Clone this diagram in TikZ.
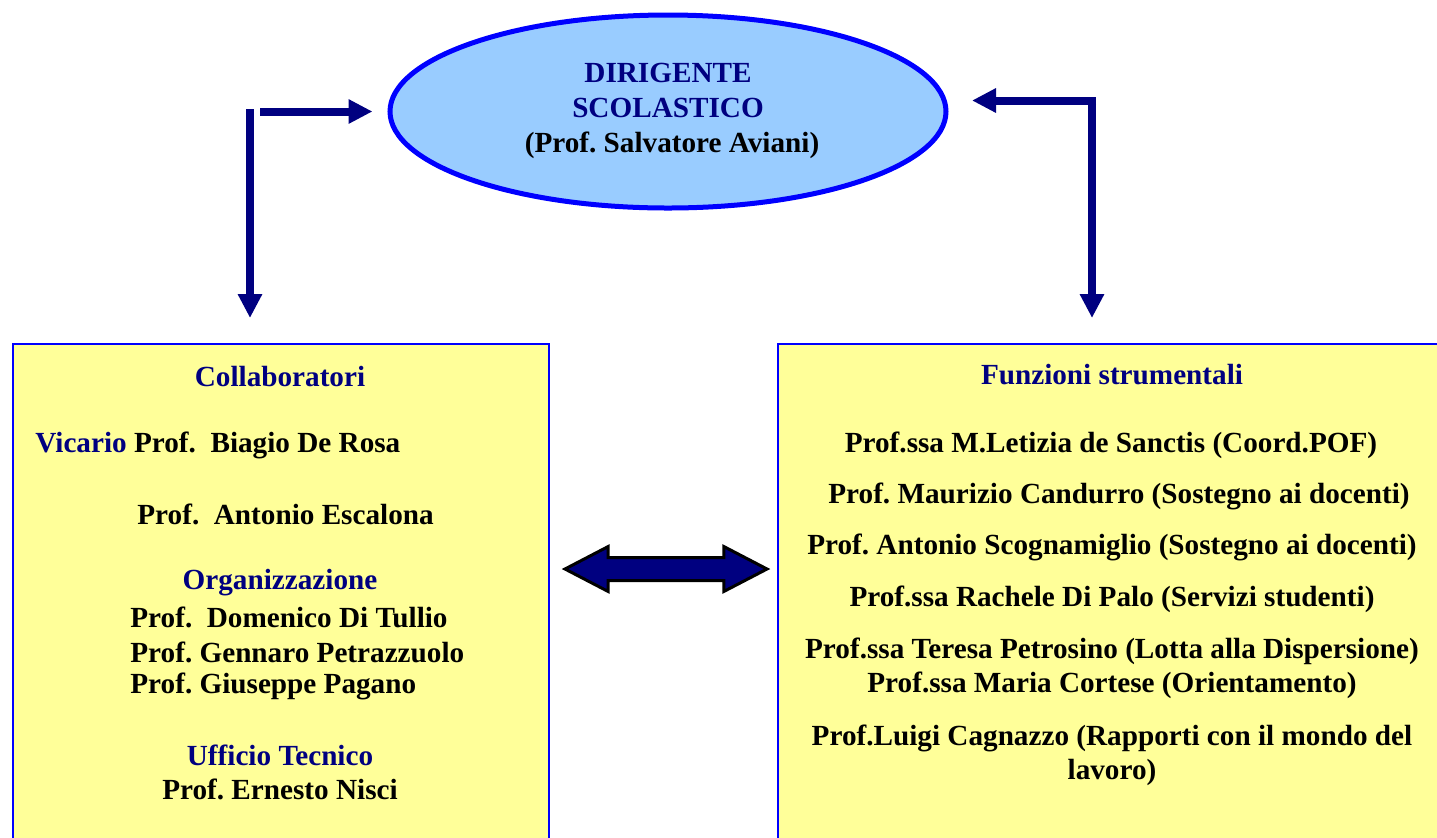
\documentclass[tikz,border=0pt]{standalone}
\usepackage{fontspec}
\setmainfont{Liberation Serif}
\usetikzlibrary{arrows.meta,shapes.geometric,shapes.arrows}
\definecolor{navy}{HTML}{000080}
\definecolor{skyfill}{HTML}{99CCFF}
\definecolor{boxfill}{HTML}{FFFF99}
\definecolor{rim}{HTML}{0000FF}
\frenchspacing

\begin{document}
\begin{tikzpicture}[x=0.5pt,y=-0.5pt]
 \tikzstyle{txt} = [inner sep=0pt, font=\fontsize{14.6}{17.3}\selectfont\bfseries];
 \tikzstyle{head} = [txt, text=navy];
 \tikzstyle{panel} = [draw=rim, fill=boxfill, line width=1pt, anchor=north west, inner sep=0pt];
 \useasboundingbox (0,0) rectangle (1437,837);

 \node (dirigente) [ellipse, draw=rim, fill=skyfill, line width=2.5pt, minimum width=278pt, minimum height=96.5pt] at (668,111.5) {};
 \node (collab) [panel, minimum width=268pt, minimum height=260pt] at (12,343) {};
 \node (funz) [panel, minimum width=334pt, minimum height=260pt] at (777,343) {};

 \node (dir1) [head] at (668,73) {DIRIGENTE};
 \node (dir2) [head] at (668,108) {SCOLASTICO};
 \node (dir3) [txt] at (672,145) {(Prof. Salvatore Aviani)};

 \tikzstyle{C} = [draw=navy, line width=4pt, -{Triangle[length=12pt,width=11.5pt]}]

 \coordinate (ldown) at (250,109);
 \coordinate (lright) at (260,111.5);
 \coordinate (rdown) at (1092,97);
 \coordinate (rleft) at (1096,100.5);
 \draw [C, shorten >=7.5pt] (lright) -- (dirigente.west);
 \draw [C, shorten >=12.5pt] (ldown) -- (ldown |- collab.north);
 \draw [C, shorten >=11.75pt] (rleft) -- (rleft -| dirigente.east);
 \draw [C, shorten >=12.5pt] (rdown) -- (rdown |- funz.north);

 \node (link) [double arrow, draw=black, fill=navy, line width=1.5pt, inner xsep=0pt, inner ysep=5pt, minimum height=101pt, double arrow head extend=5.5pt, double arrow tip angle=55] at (666,569) {};

 \node (coll) [head] at (280,377) {Collaboratori};
 \node (vicario) [txt, anchor=west] at (35,445) {\textcolor{navy}{Vicario} Prof.\ \ Biagio De Rosa};
 \node (escalona) [txt, anchor=west] at (137,514) {Prof.\ \ Antonio Escalona};
 \node (org) [head] at (280,583) {Organizzazione};
 \node (tullio) [txt, anchor=west] at (130,617) {Prof.\ \ Domenico Di Tullio};
 \node (petra) [txt, anchor=west] at (130,652) {Prof. Gennaro Petrazzuolo};
 \node (pagano) [txt, anchor=west] at (130,686) {Prof. Giuseppe Pagano};
 \node (uff) [head] at (280,755) {Ufficio Tecnico};
 \node (nisci) [txt] at (280,789) {Prof. Ernesto Nisci};

 \node (fs) [head] at (1112,375) {Funzioni strumentali};
 \node (f1) [txt] at (1111,445) {Prof.ssa M.Letizia de Sanctis (Coord.POF)};
 \node (f2) [txt] at (1119,496) {Prof. Maurizio Candurro (Sostegno ai docenti)};
 \node (f3) [txt] at (1112,547) {Prof. Antonio Scognamiglio (Sostegno ai docenti)};
 \node (f4) [txt] at (1112,599) {Prof.ssa Rachele Di Palo (Servizi studenti)};
 \node (f5) [txt] at (1112,651) {Prof.ssa Teresa Petrosino (Lotta alla Dispersione)};
 \node (f6) [txt] at (1112,685) {Prof.ssa Maria Cortese (Orientamento)};
 \node (f7) [txt] at (1112,738) {Prof.Luigi Cagnazzo (Rapporti con il mondo del};
 \node (f8) [txt] at (1112,772) {lavoro)};

\end{tikzpicture}
\end{document}
